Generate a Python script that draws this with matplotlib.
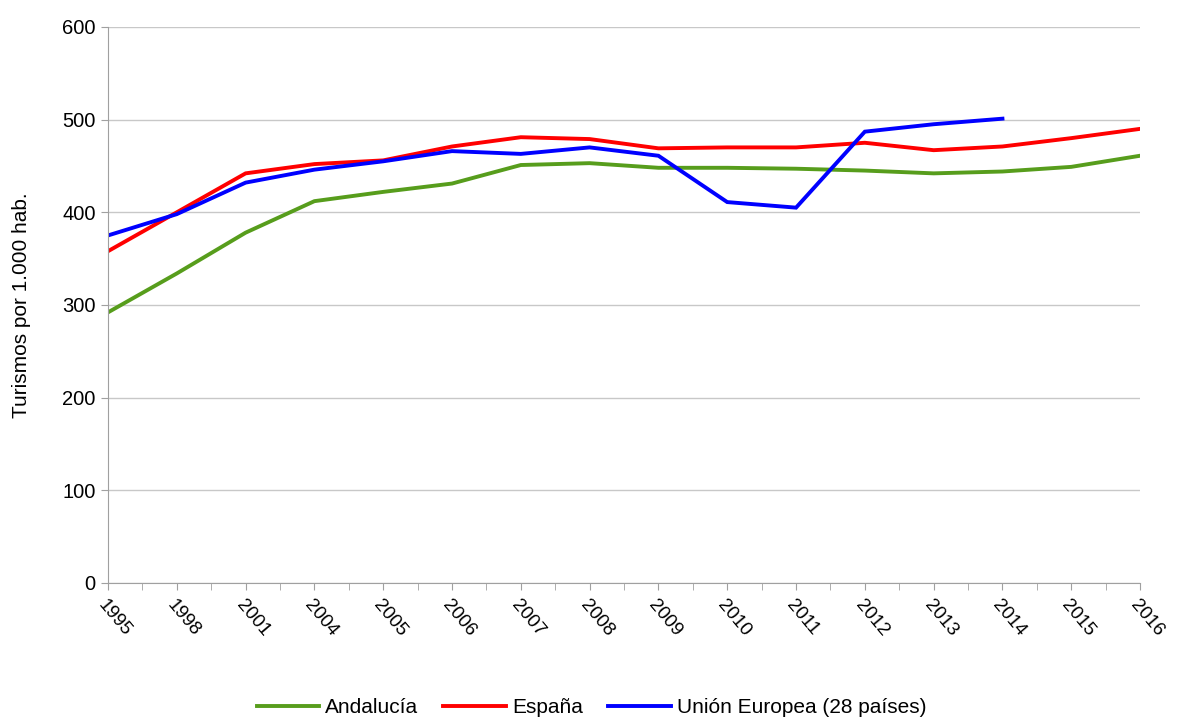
import matplotlib
matplotlib.use("Agg")
import matplotlib.pyplot as plt
import numpy as np

plt.rcParams['font.family'] = ['Liberation Sans', 'DejaVu Sans']

years = ['1995', '1998', '2001', '2004', '2005', '2006', '2007', '2008',
         '2009', '2010', '2011', '2012', '2013', '2014', '2015', '2016']
andalucia = [292, 334, 378, 412, 422, 431, 451, 453,
             448, 448, 447, 445, 442, 444, 449, 461]
espana = [358, 400, 442, 452, 456, 471, 481, 479,
          469, 470, 470, 475, 467, 471, 480, 490]
ue28 = [375, 398, 432, 446, 455, 466, 463, 470,
        461, 411, 405, 487, 495, 501]
series = [('Andalucía', andalucia, '#579d1c'),
          ('España', espana, '#ff0000'),
          ('Unión Europea (28 países)', ue28, '#0000ff')]

fig = plt.figure(figsize=(11.83, 7.24), dpi=100)
ax = fig.add_axes([0.0913, 0.1948, 0.8724, 0.768])

x = np.arange(len(years))
for name, vals, col in series:
    ax.plot(x[:len(vals)], vals, color=col, lw=2.8, label=name,
            solid_joinstyle='miter')

ax.set_xlim(0, len(years) - 1)
ax.set_ylim(0, 600)
ax.set_yticks(range(0, 601, 100))
ax.set_xticks(x)
ax.set_xticklabels(years, rotation=-50, ha='left', va='top',
                   rotation_mode='anchor', fontsize=13.5)
ax.set_xticks(x[:-1] + 0.5, minor=True)
ax.tick_params(axis='x', which='both', length=5, color='#a0a0a0', pad=5)
ax.tick_params(axis='y', length=5, color='#a0a0a0', labelsize=14.5, pad=4)
ax.grid(axis='y', color='#c8c8c8', lw=1)
ax.set_axisbelow(True)
for s in ['top', 'right']:
    ax.spines[s].set_visible(False)
for s in ['left', 'bottom']:
    ax.spines[s].set_color('#a0a0a0')
ax.set_ylabel('Turismos por 1.000 hab.', fontsize=15, labelpad=22)

fig.legend(loc='lower center', bbox_to_anchor=(0.5, -0.016), ncol=3,
           frameon=False, fontsize=15, handlelength=3.0, columnspacing=1.2,
           handletextpad=0.3)

fig.savefig('out.png', dpi=100)
